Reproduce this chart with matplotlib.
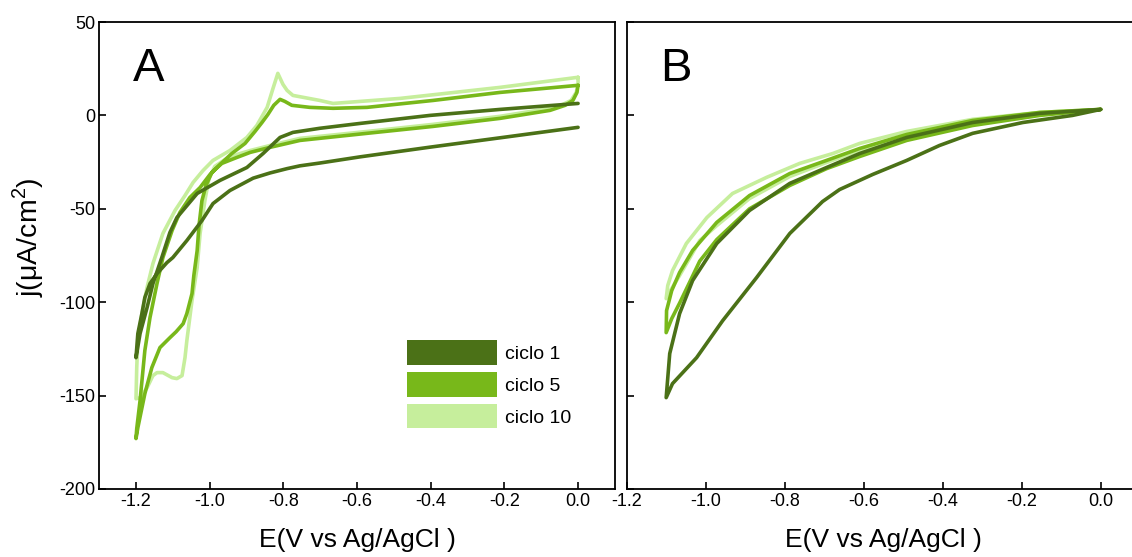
import matplotlib
matplotlib.use("Agg")
import matplotlib.pyplot as plt
from matplotlib.patches import Patch

plt.rcParams["font.family"] = ["Liberation Sans", "DejaVu Sans"]
plt.rcParams["mathtext.fontset"] = "custom"
plt.rcParams["mathtext.rm"] = "Liberation Sans"
plt.rcParams["axes.unicode_minus"] = False

cycles = ["ciclo 1", "ciclo 5", "ciclo 10"]
colors = ["#4b7117", "#78b81a", "#c6ee9c"]

# ---- panel A: E (V) / j (uA/cm2), cathodic scan then return scan
a1_fwd_E = [0.0, -0.212, -0.402, -0.592, -0.701, -0.755, -0.790, -0.836, -0.882, -0.945, -0.991,
            -1.021, -1.062, -1.100, -1.116, -1.143, -1.162, -1.176, -1.184, -1.195, -1.20]
a1_fwd_j = [-6.4, -12.0, -17.0, -22.2, -25.5, -27.0, -28.5, -30.8, -33.6, -40.2, -47.2,
            -56.3, -67.0, -76.1, -78.8, -84.7, -90.0, -97.5, -106.1, -116.8, -129.7]
a1_rev_E = [-1.20, -1.189, -1.170, -1.154, -1.130, -1.108, -1.089, -1.034, -0.972, -0.899, -0.855,
            -0.809, -0.774, -0.701, -0.592, -0.402, -0.212, 0.0]
a1_rev_j = [-129.7, -116.8, -102.9, -90.0, -76.1, -62.7, -54.7, -41.8, -34.8, -27.9, -20.4,
            -11.8, -9.1, -6.9, -4.3, 0.0, 3.2, 6.4]

a5_fwd_E = [0.0, -0.003, -0.014, -0.035, -0.076, -0.212, -0.394, -0.573, -0.755, -0.836, -0.890,
            -0.926, -0.967, -0.994, -1.010, -1.021, -1.029, -1.034, -1.043, -1.048, -1.062,
            -1.072, -1.091, -1.108, -1.135, -1.157, -1.176, -1.195, -1.20]
a5_fwd_j = [16.1, 12.3, 8.0, 5.4, 2.7, -1.6, -5.9, -9.6, -13.4, -17.1, -19.8,
            -22.5, -25.7, -30.5, -37.5, -45.6, -59.0, -72.4, -85.7, -95.4, -106.1,
            -111.5, -115.8, -119.0, -124.3, -135.0, -149.0, -167.2, -173.0]
a5_rev_E = [-1.20, -1.198, -1.189, -1.176, -1.162, -1.143, -1.127, -1.102, -1.081, -1.054, -1.026,
            -0.999, -0.972, -0.940, -0.904, -0.877, -0.858, -0.842, -0.826, -0.809, -0.796,
            -0.777, -0.728, -0.665, -0.573, -0.394, -0.212, 0.0]
a5_rev_j = [-173.0, -167.7, -152.7, -125.9, -108.2, -90.0, -76.1, -61.6, -52.0, -44.0, -38.6,
            -31.6, -26.3, -20.4, -15.0, -8.6, -3.8, 0.5, 5.4, 8.6, 7.5,
            5.4, 4.3, 3.8, 4.3, 8.0, 12.3, 16.1]

a10_fwd_E = [0.0, 0.0, -0.005, -0.019, -0.041, -0.076, -0.212, -0.394, -0.573, -0.755, -0.836,
             -0.890, -0.926, -0.958, -0.986, -1.002, -1.013, -1.026, -1.034, -1.048, -1.062,
             -1.067, -1.075, -1.089, -1.102, -1.127, -1.143, -1.154, -1.170, -1.189, -1.20]
a10_fwd_j = [20.4, 16.6, 12.3, 8.0, 5.9, 3.8, -0.5, -4.8, -8.6, -12.3, -16.1,
             -18.8, -20.9, -23.6, -27.3, -33.8, -45.6, -63.2, -81.5, -99.1, -120.6,
             -129.7, -139.3, -140.9, -140.4, -137.7, -137.7, -139.3, -145.8, -151.1, -151.7]
a10_rev_E = [-1.20, -1.198, -1.195, -1.184, -1.170, -1.154, -1.127, -1.094, -1.067, -1.045, -1.018,
             -0.991, -0.945, -0.899, -0.872, -0.844, -0.828, -0.815, -0.801, -0.790, -0.774,
             -0.701, -0.665, -0.483, -0.212, 0.0]
a10_rev_j = [-151.7, -135.0, -120.6, -106.1, -92.1, -79.3, -63.2, -50.9, -42.9, -35.9, -29.5,
             -24.1, -18.8, -11.8, -5.4, 4.3, 14.5, 22.5, 16.6, 13.4, 10.7,
             8.0, 6.4, 9.1, 15.0, 20.4]

# ---- panel B
b1_fwd_E = [0.0, -0.071, -0.197, -0.324, -0.408, -0.491, -0.577, -0.661, -0.704, -0.787, -0.871,
            -0.957, -1.023, -1.084, -1.10]
b1_fwd_j = [3.2, 0.0, -3.8, -9.6, -16.1, -24.1, -31.6, -39.7, -46.1, -63.2, -86.8,
            -109.9, -129.7, -143.6, -151.1]
b1_rev_E = [-1.10, -1.091, -1.066, -1.033, -0.972, -0.889, -0.787, -0.694, -0.610, -0.491, -0.324,
            -0.154, 0.0]
b1_rev_j = [-151.1, -127.5, -106.1, -88.4, -68.6, -50.9, -36.4, -27.9, -20.4, -11.8, -3.8,
            1.1, 3.2]

b5_fwd_E = [0.0, -0.154, -0.324, -0.491, -0.610, -0.694, -0.787, -0.889, -0.972, -1.015, -1.041,
            -1.066, -1.086, -1.10]
b5_fwd_j = [3.2, 0.0, -5.4, -13.4, -22.0, -28.5, -37.5, -50.0, -66.5, -78.0, -89.5,
            -100.5, -108.8, -116.3]
b5_rev_E = [-1.10, -1.099, -1.086, -1.066, -1.033, -0.972, -0.889, -0.787, -0.694, -0.610, -0.491,
            -0.324, -0.154, 0.0]
b5_rev_j = [-116.3, -104.5, -93.8, -84.1, -72.3, -57.3, -42.9, -31.1, -24.1, -17.7, -10.2,
            -2.7, 1.6, 3.2]

b10_fwd_E = [0.0, -0.154, -0.324, -0.491, -0.610, -0.694, -0.787, -0.889, -0.972, -1.015, -1.041,
             -1.066, -1.086, -1.10]
b10_fwd_j = [3.2, 0.5, -4.3, -11.8, -18.8, -25.2, -32.7, -44.5, -59.0, -67.0, -76.6,
             -85.7, -92.7, -98.1]
b10_rev_E = [-1.10, -1.096, -1.084, -1.049, -0.997, -0.932, -0.846, -0.762, -0.678, -0.610, -0.491,
             -0.324, -0.154, 0.0]
b10_rev_j = [-98.1, -91.1, -83.1, -68.6, -54.7, -41.8, -33.2, -25.7, -20.4, -15.0, -8.6,
             -2.1, 1.6, 3.2]

panel_a = [(a1_fwd_E + a1_rev_E, a1_fwd_j + a1_rev_j),
           (a5_fwd_E + a5_rev_E, a5_fwd_j + a5_rev_j),
           (a10_fwd_E + a10_rev_E, a10_fwd_j + a10_rev_j)]
panel_b = [(b1_fwd_E + b1_rev_E, b1_fwd_j + b1_rev_j),
           (b5_fwd_E + b5_rev_E, b5_fwd_j + b5_rev_j),
           (b10_fwd_E + b10_rev_E, b10_fwd_j + b10_rev_j)]

xticks = [-1.2, -1.0, -0.8, -0.6, -0.4, -0.2, 0.0]
yticks = [50, 0, -50, -100, -150, -200]

fig = plt.figure(figsize=(11.32, 5.57), dpi=100)
axA = fig.add_axes([0.0876, 0.1221, 0.4556, 0.8384])
axB = fig.add_axes([0.5536, 0.1221, 0.4536, 0.8384])

for ax, data, letter in [(axA, panel_a, "A"), (axB, panel_b, "B")]:
    # draw cycle 10 first so darker cycles sit on top
    for (E, j), c in reversed(list(zip(data, colors))):
        ax.plot(E, j, color=c, lw=2.6, solid_joinstyle="round", solid_capstyle="round")
    ax.set_ylim(-200, 50)
    ax.set_yticks(yticks)
    ax.set_xticks(xticks)
    ax.set_xticklabels([f"{t:.1f}" for t in xticks])
    ax.tick_params(direction="in", length=5, width=1.2, labelsize=13, pad=3)
    for s in ax.spines.values():
        s.set_linewidth(1.3)
    ax.set_xlabel("E(V vs Ag/AgCl )", fontsize=19, labelpad=13)
    ax.text(0.066, 0.90, letter, transform=ax.transAxes, fontsize=34, va="center", ha="left")

axA.set_xlim(-1.3, 0.1)
axB.set_xlim(-1.2, 0.1)
axB.set_yticklabels([])
fig.text(28 / 1132, 1 - 237 / 557, "j(μA/cm$^2$)", fontsize=20.5, rotation=90,
         ha="center", va="center")

handles = [Patch(facecolor=c, edgecolor="none") for c in colors]
axA.legend(handles, cycles, loc="upper left", bbox_to_anchor=(0.597, 0.318), frameon=False,
           fontsize=14, handlelength=4.6, handleheight=1.55, labelspacing=0.38,
           handletextpad=0.45, borderpad=0, borderaxespad=0)

fig.savefig("out.png", dpi=100)
